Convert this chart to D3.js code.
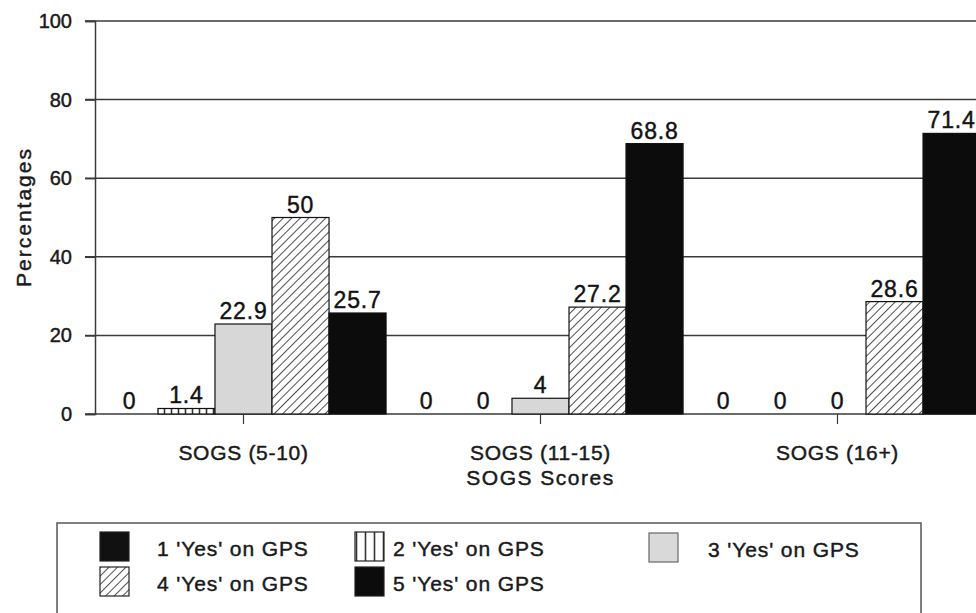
<!DOCTYPE html>
<html><head><meta charset="utf-8">
<script src="https://cdn.jsdelivr.net/npm/d3@7"></script>
<style>
html,body{margin:0;padding:0;background:#fff;}
svg{display:block;font-family:"Liberation Sans",Arial,Helvetica,sans-serif;}
svg text{stroke:#1a1a1a;stroke-width:0.45px;}
</style></head>
<body>
<svg id="chart" width="976" height="613"></svg>
<script>
const groups = ["SOGS (5-10)", "SOGS (11-15)", "SOGS (16+)"];
const seriesNames = ["1 'Yes' on GPS", "2 'Yes' on GPS", "3 'Yes' on GPS", "4 'Yes' on GPS", "5 'Yes' on GPS"];
const s1 = [0, 0, 0];
const s2 = [1.4, 0, 0];
const s3 = [22.9, 4, 0];
const s4 = [50, 27.2, 28.6];
const s5 = [25.7, 68.8, 71.4];
const yTicks = [0, 20, 40, 60, 80, 100];
const xTitle = "SOGS Scores";
const yTitle = "Percentages";

const seriesValues = [s1, s2, s3, s4, s5];
const fills = ["#111", "url(#vlines)", "#d7d7d7", "url(#hatch)", "#0c0c0c"];

const svg = d3.select("#chart");
const defs = svg.append("defs");
const hatch = defs.append("pattern").attr("id", "hatch").attr("patternUnits", "userSpaceOnUse")
  .attr("width", 6).attr("height", 6).attr("patternTransform", "rotate(45)");
hatch.append("rect").attr("width", 6).attr("height", 6).attr("fill", "#fff");
hatch.append("line").attr("x1", 0).attr("y1", 0).attr("x2", 0).attr("y2", 6)
  .attr("stroke", "#222").attr("stroke-width", 1.6);
const vl = defs.append("pattern").attr("id", "vlines").attr("patternUnits", "userSpaceOnUse")
  .attr("width", 7).attr("height", 7);
vl.append("rect").attr("width", 7).attr("height", 7).attr("fill", "#fff");
vl.append("line").attr("x1", 3.5).attr("y1", 0).attr("x2", 3.5).attr("y2", 7)
  .attr("stroke", "#333").attr("stroke-width", 1.6);
const vlL = defs.append("pattern").attr("id", "vlinesLegend").attr("patternUnits", "userSpaceOnUse")
  .attr("width", 9).attr("height", 9).attr("x", 357);
vlL.append("rect").attr("width", 9).attr("height", 9).attr("fill", "#fff");
vlL.append("line").attr("x1", 4.5).attr("y1", 0).attr("x2", 4.5).attr("y2", 9)
  .attr("stroke", "#333").attr("stroke-width", 1.6);

const y = d3.scaleLinear().domain([0, 100]).range([414, 21]);
const x = d3.scaleBand().domain(groups).range([95, 986]).paddingInner(0.04).paddingOuter(0.02);
const xi = d3.scaleBand().domain(d3.range(5)).range([0, x.bandwidth()]).padding(0);

// gridlines
svg.append("g").selectAll("line").data(yTicks).join("line")
  .attr("x1", 85).attr("x2", 976)
  .attr("y1", d => y(d)).attr("y2", d => y(d))
  .attr("stroke", "#3a3a3a").attr("stroke-width", 1.5);

// y axis
const yAxis = svg.append("g").attr("transform", "translate(95,0)")
  .call(d3.axisLeft(y).tickValues(yTicks).tickSize(10).tickPadding(13));
yAxis.select(".domain").attr("stroke", "#3a3a3a").attr("stroke-width", 1.5);
yAxis.selectAll(".tick line").attr("stroke", "#3a3a3a").attr("stroke-width", 1.5);
yAxis.selectAll(".tick text").attr("font-size", 20).attr("fill", "#1a1a1a")
  .attr("font-family", "'Liberation Sans',Arial,sans-serif");

// bars
const data = [];
groups.forEach((g, gi) => seriesValues.forEach((arr, si) => data.push({g, si, v: arr[gi]})));
svg.append("g").selectAll("rect").data(data.filter(d => d.v > 0)).join("rect")
  .attr("x", d => x(d.g) + xi(d.si))
  .attr("width", xi.bandwidth())
  .attr("y", d => y(d.v))
  .attr("height", d => y(0) - y(d.v))
  .attr("fill", d => fills[d.si])
  .attr("stroke", "#111").attr("stroke-width", 1.2);

// value labels
svg.append("g").selectAll("text").data(data).join("text")
  .attr("x", d => x(d.g) + xi(d.si) + xi.bandwidth() / 2)
  .attr("y", d => y(d.v) - 5)
  .attr("text-anchor", "middle")
  .attr("font-size", 23).attr("letter-spacing", 0.8).attr("fill", "#111")
  .text(d => d.v);

// x axis
const xAxis = svg.append("g").attr("transform", "translate(0,414)")
  .call(d3.axisBottom(x).tickSize(10).tickPadding(21));
xAxis.select(".domain").remove();
xAxis.selectAll(".tick line").attr("stroke", "#3a3a3a").attr("stroke-width", 1.2);
xAxis.selectAll(".tick text").attr("font-size", 21).attr("letter-spacing", 0.7).attr("fill", "#1a1a1a")
  .attr("font-family", "'Liberation Sans',Arial,sans-serif");

svg.append("text").attr("x", x(groups[1]) + x.bandwidth() / 2).attr("y", 485)
  .attr("text-anchor", "middle").attr("font-size", 21).attr("letter-spacing", 1.5)
  .attr("fill", "#1a1a1a").text(xTitle);

svg.append("text").attr("transform", "translate(31,217) rotate(-90)")
  .attr("text-anchor", "middle").attr("font-size", 21).attr("letter-spacing", 2)
  .attr("fill", "#1a1a1a").text(yTitle);

// legend
svg.append("rect").attr("x", 57).attr("y", 523).attr("width", 864).attr("height", 100)
  .attr("fill", "none").attr("stroke", "#555").attr("stroke-width", 1.5);
const legendFills = ["#111", "url(#vlinesLegend)", "#d9d9d9", "url(#hatch)", "#0c0c0c"];
const legPos = [[100, 532], [355, 532], [649, 533], [100, 567], [355, 567]];
const legTextDx = [57, 38, 59, 57, 38];
const lg = svg.append("g").selectAll("g").data(seriesNames).join("g")
  .attr("transform", (d, i) => `translate(${legPos[i][0]},${legPos[i][1]})`);
lg.append("rect").attr("width", 29).attr("height", 29)
  .attr("fill", (d, i) => legendFills[i])
  .attr("stroke", (d, i) => i === 2 ? "#666" : "#222").attr("stroke-width", 1.2);
lg.append("text").attr("x", (d, i) => legTextDx[i]).attr("y", 24)
  .attr("font-size", 21).attr("letter-spacing", 0.9).attr("fill", "#1a1a1a").text(d => d);
</script>
</body></html>
